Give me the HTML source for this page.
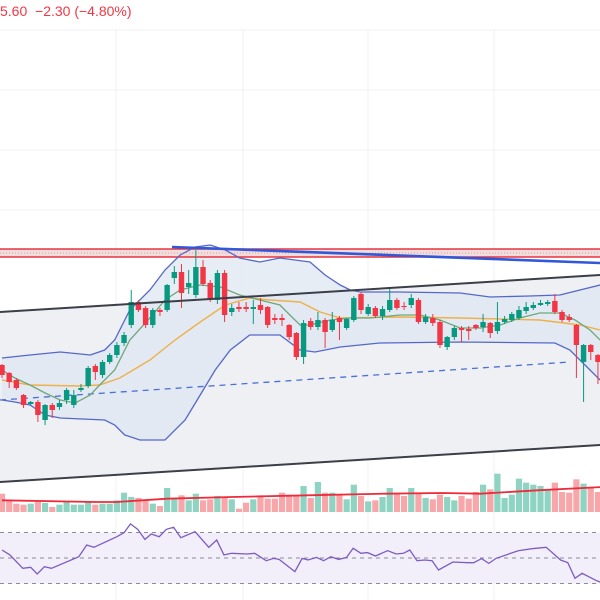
<!DOCTYPE html>
<html><head><meta charset="utf-8"><style>
html,body{margin:0;padding:0;background:#fff;width:600px;height:600px;overflow:hidden}
#hdr{position:absolute;left:0;top:3px;font:14px "Liberation Sans",sans-serif;color:#f23645;white-space:pre}
svg{position:absolute;left:0;top:0}
</style></head><body>
<svg id="chart" width="600" height="600"></svg>
<div id="hdr">5.60  −2.30 (−4.80%)</div>
<script>
const opens=[77.5,73.5,70,62.5,58,59,50,57.5,56.5,60,57.5,65,67,77,72.5,79,82.5,88.5,97.5,109,106,97.5,105,105,121,124,116.5,112.5,126.5,118.5,110,123.5,104,106.5,106.5,105.5,107.5,106.5,101,101,97.5,93.5,81.5,99.5,96.5,100,95,101,96,100,113,103,106,102,105,110,107,107.5,110,99,101,99,86.5,91.5,96,95.5,97.5,96.5,98.5,94.5,99,100,101,104.5,106,107.5,108,109.5,104,101.5,97.5,79,87.5,82.5];
const closes=[72.5,69,66,57.5,59,52.5,57.5,55,58.5,65,62.5,66,76,74,79,82.5,87.5,92.5,109,105,97.5,105,104,117.5,124,113.5,118.5,126.5,118,110,123.5,102.5,106,105.5,105.5,106.5,105,97.5,100,100,91.5,81.5,98.5,96.5,100,94,100,99,100.5,111,105,106.5,102,105.5,110,106,106.5,111,99,101.5,98.5,87.5,91.5,96,95,94.5,96,99,93.5,99,100.5,103,105,106.5,107.5,108.5,109,104,100,100,87.5,87.5,84,79];
const highs=[78,74,71,63,59.5,60,58,58.5,60,66,65,68,77,78,80,83.5,89,94,115,110,107,106,106,118,127,128,125,135,130,120,125,125,108,109,109,110,111,107,103,103,98,94,100,101,104,101,104,102,101,112,114,108,107,107,116,111,109,113,111,103,103,100,92,97,97,97,98,103,99,109,102,104,107,109,109,110,110,113,105,103,98,88,88,83];
const lows=[71,66,65,56,57.5,49,47.5,51,55,58,56,64,66,70,71,78,81,87,96,104,96,96,102,104,118,106,113,111,117,109,108,99,102,104,104,98,103,96,98,97,90,80,78,95,95,86,94,90,95,99,103,102,101,100,104,105,105,106,98,98,97,86,85,90,89,90,95,94,91,93,98,99,100,103,105,107,107,103,99,99,71,59,80,68];
const volumes=[55,35,25,22,25,30,27,15,22,30,22,22,30,22,25,25,35,58,45,42,35,25,18,72,40,50,35,55,35,38,48,42,38,10,28,38,50,40,40,58,52,48,78,42,90,58,58,50,38,82,48,32,35,45,72,55,48,72,58,42,38,52,45,35,48,40,60,82,68,115,42,52,100,88,82,78,68,88,60,58,98,85,75,60];
const volMaT=[0,13,16,23,32,42.6,53.3,61.3,66.6,74.6,83.6];
const volMaV=[35,30,30,40,45,50,55,57,55,65,75];
const bbUpT=[0,3.9,8.1,12.3,14.3,15.7,17.8,20.6,22.7,24.8,26.9,29,31.1,33.1,35.9,38.7,40.8,42.9,45,47.1,48.5,49.9,55.4,63.8,68,73.5,77.7,80.5,83.3];
const bbUpV=[81,82.5,84,82.5,85,90,105,115,125,132.5,136.5,137.5,135,131,129,131,130,129,122.5,117.5,115,114,114,113.5,111.5,112,112.5,115,117.5];
const bbLoT=[0,1.8,3.9,6,8.1,14.3,15.7,17.1,19.2,22.7,25.5,27.6,29.7,31.8,34.5,38.7,41.5,43.6,47.1,52.6,63.8,77,79.1,81.9,83.3];
const bbLoV=[60,59,57.5,52.5,51,50,47.5,42.5,40,40,50,62.5,75,85,92.5,92.5,85,84,86.5,88.5,89,88.5,85,75,70];
const maFastT=[0,1.8,3.9,6,8.1,10.2,12.3,13.6,15.7,17.8,20.6,22.7,24.8,27.6,30.4,33.1,35.9,38.7,40.1,41.5,42.9,45.7,48.5,51.3,55.4,58.2,61,63.8,66.6,69.4,72.1,74.9,77.7,79.8,81.9,83.3];
const maFastV=[75,71,67.5,63.5,60,58.5,62.5,67.5,75,90,101,110,115,117.5,116.5,112.5,110,107.5,102.5,97.5,97.5,100,101,101,102.5,102.5,100,96,96,97.5,101,103.5,103.5,100,95,90];
const maSlowT=[0,3.9,10.9,13.6,16.4,20.6,24.1,27.6,31.1,34.5,37.3,41.5,44.3,47.1,55.4,63.8,74.9,80.5,83.3];
const maSlowV=[70,67.5,67,67.5,71,80,90,99,107.5,111,110,109,104,101,101.5,101,100,97.5,95];
const rsiT=[0,1.1,2.9,4,4.9,5.9,6.9,10.7,11.8,12.8,16,17,17.9,18.9,19.9,20.8,21.9,22.9,23.9,24.9,26.9,28.8,29.9,30.9,32,34.1,35.2,36.8,37.8,38.6,40.8,41.8,42.6,43.8,44.8,45.8,46.9,48,48.9,50,50.9,52,53.7,54.9,55.9,56.8,57.8,58.9,59.9,60.8,62.8,64.8,65.7,66.8,67.8,68.8,71.9,73.8,75.8,77.8,78.8,79.8,80.8,82.8,83.6];
const rsiV=[56.3,52.4,41.9,42.7,37.5,43.2,41.9,51,60.2,58.4,66.7,69.9,76.7,72.5,64.6,68.8,66.7,72.5,74.1,65.9,70.6,58.4,64.1,52.4,53.7,53.1,53.7,47.9,49.7,48.9,39.3,49.7,48.4,50.5,47.9,51,48.9,50.5,57.6,53.7,54.2,51.6,55.7,53.1,53.7,56.3,47.9,48.4,47.9,40.6,46.9,46.3,46.3,49.5,45.8,49.7,55.7,57.3,58.4,48.4,46.3,34.1,38,32.2,30.6];

const NS='http://www.w3.org/2000/svg';
const svg=document.getElementById('chart');
const X=t=>2+t*7.18;
const Y=p=>520-2*p;
const VY=v=>512-v/3;
const RY=r=>558-(r-50)/0.784;
function mk(tag,attrs,parent){const e=document.createElementNS(NS,tag);for(const k in attrs)e.setAttribute(k,attrs[k]);(parent||svg).appendChild(e);return e;}
function pts(T,V,fy){return T.map((t,i)=>X(t).toFixed(1)+','+fy(V[i]).toFixed(1)).join(' ');}

[116,243,368,494].forEach(x=>{const g=mk('line',{x1:x,y1:30,x2:x,y2:600,stroke:'#f0f1f4','stroke-width':1});

});
[30,90,150,210].forEach(y=>{const g=mk('line',{x1:0,y1:y,x2:600,y2:y,stroke:'#f0f1f4','stroke-width':1});

});

let ch=mk('polygon',{points:'0,312 600,275 600,445 0,482',fill:'#eef0f3'});



let bbf=mk('polygon',{points:pts(bbUpT,bbUpV,Y)+' '+pts(bbLoT.slice().reverse(),bbLoV.slice().reverse(),Y),fill:'#dfe7f2','fill-opacity':0.75});



let rz=mk('rect',{x:0,y:249,width:600,height:8,fill:'#f5dcdc'});


let rzd=mk('line',{x1:0,y1:253,x2:600,y2:253,stroke:'#c8a8a8','stroke-width':1,'stroke-dasharray':'1,2'});


[249,257].forEach(y=>{const l=mk('line',{x1:0,y1:y,x2:600,y2:y,stroke:'#e8333f','stroke-width':1.6});

});

let dm=mk('line',{x1:0,y1:400,x2:570,y2:362,stroke:'#4a6fd8','stroke-width':1.3,'stroke-dasharray':'6,5'});



let bu=mk('polyline',{points:pts(bbUpT,bbUpV,Y),fill:'none',stroke:'#5568c8','stroke-width':1.3});


let bl=mk('polyline',{points:pts(bbLoT,bbLoV,Y),fill:'none',stroke:'#5568c8','stroke-width':1.3});


let ms=mk('polyline',{points:pts(maSlowT,maSlowV,Y),fill:'none',stroke:'#eeb04a','stroke-width':1.4});


let mf=mk('polyline',{points:pts(maFastT,maFastV,Y),fill:'none',stroke:'#6fa77a','stroke-width':1.3});



opens.forEach((o,i)=>{
  const c=closes[i],up=c>=o,col=up?'#089981':'#f23645',x=X(i);
  const g=mk('g',{});
  
  
  mk('line',{x1:x,y1:Y(highs[i]),x2:x,y2:Y(lows[i]),stroke:col,'stroke-width':1},g);
  const t=Y(Math.max(o,c)),b=Y(Math.min(o,c));
  mk('rect',{x:x-2.7,y:t,width:5.4,height:Math.max(1,b-t),fill:col},g);
});

let cu=mk('line',{x1:0,y1:312,x2:600,y2:275,stroke:'#3c3f48','stroke-width':2});


let cl=mk('line',{x1:0,y1:482,x2:600,y2:445,stroke:'#3c3f48','stroke-width':2});


let tl=mk('line',{x1:172,y1:247,x2:600,y2:263,stroke:'#3058d8','stroke-width':2.6});



volumes.forEach((v,i)=>{
  const up=closes[i]>=opens[i];
  const r=mk('rect',{x:X(i)-3.1,y:VY(v),width:6.2,height:v/3,fill:up?'#8fd4c3':'#f7a7aa'});
  
  
});
let vm=mk('polyline',{points:pts(volMaT,volMaV,VY),fill:'none',stroke:'#ee2b3b','stroke-width':1.8});



let rb=mk('rect',{x:0,y:RY(70),width:600,height:RY(30)-RY(70),fill:'#f2effa'});


[70,50,30].forEach(l=>{const d=mk('line',{x1:0,y1:RY(l),x2:600,y2:RY(l),stroke:'#8a8d96','stroke-width':1,'stroke-dasharray':'4,4'});

});
let rl=mk('polyline',{points:pts(rsiT,rsiV,RY),fill:'none',stroke:'#7e5cc0','stroke-width':1.3});


</script>
</body></html>
